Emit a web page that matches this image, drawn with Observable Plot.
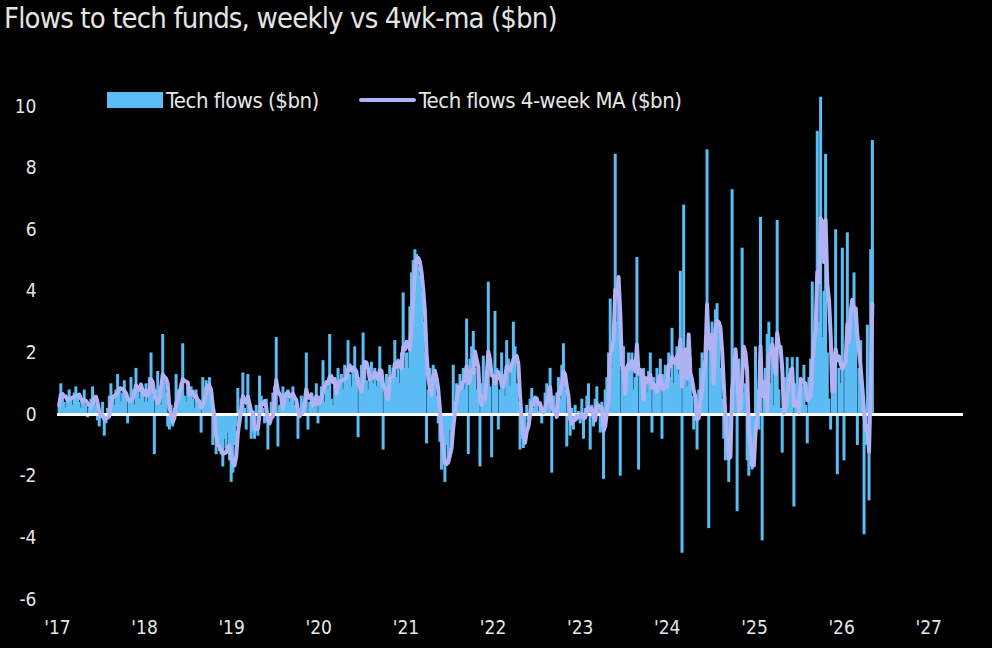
<!DOCTYPE html>
<html>
<head>
<meta charset="utf-8">
<script src="https://cdn.jsdelivr.net/npm/d3@7"></script>
<script src="https://cdn.jsdelivr.net/npm/@observablehq/plot@0.6"></script>
<style>
  html, body { margin: 0; padding: 0; background: #000; }
  body { width: 992px; height: 648px; overflow: hidden;
    font-family: "DejaVu Sans Condensed", "DejaVu Sans", sans-serif;
    color: #e6e6e6; }
  #title { height: 40px; line-height: 36px; font-size: 29px; letter-spacing: -0.85px; padding-left: 4px; color: #e4e4e4; white-space: nowrap; }
  #wrap { position: relative; width: 992px; height: 608px; }
  #legend { position: absolute; left: 107px; top: 48px; height: 24px; display: flex; align-items: center;
    font-size: 22px; letter-spacing: -0.5px; color: #e6e6e6; white-space: nowrap; }
  .sw-bar { width: 56px; height: 16px; background: #5cbcf4; margin-right: 3px; }
  .sw-line { width: 57px; height: 4px; background: #b0b2f4; border-radius: 2px; margin-left: 40px; margin-right: 3px; }
</style>
</head>
<body>
<div id="title">Flows to tech funds, weekly vs 4wk-ma ($bn)</div>
<div id="wrap">
  <div id="chart"></div>
  <div id="legend">
    <div class="sw-bar"></div><span>Tech flows ($bn)</span>
    <div class="sw-line"></div><span>Tech flows 4-week MA ($bn)</span>
  </div>
</div>
<script>
// Weekly tech fund flows ($bn), one array per year
const flows2017 = [0.3, 1.0, 0.7, 0.4, 0.2, 0.6, 0.8, 0.5, 0.3, 0.7, 0.9, 0.6, 0.4,
  0.2, 0.5, 0.8, 0.3, -0.1, 0.2, 0.5, 0.9, 0.6, 0.3, -0.2, -0.4, 0.1,
  0.4, -0.7, -0.3, 0.2, 0.6, 1.0, 0.5, 0.3, 0.8, 1.3, 0.9, 0.4, 0.7,
  1.1, 0.6, -0.3, 0.4, 1.2, 0.8, 0.3, 1.5, 0.9, 0.5, 1.0, 0.7, 0.4];
const flows2018 = [1.0, 0.4, 1.2, 2.0, 0.6, -1.3, 0.8, 1.4, 0.9, 0.3, 2.6, 1.1, 0.7,
  -0.4, -0.5, 0.3, -0.4, 0.2, 1.3, 0.8, 0.5, 1.0, 2.3, 0.6, 0.4, 0.9,
  0.7, 0.9, 0.5, 0.2, 0.8, 0.4, 0.3, -0.6, 1.2, 0.9, 1.1, 0.6, 1.2,
  0.3, -1.0, -0.7, -1.3, -0.9, -1.2, -1.3, -1.7, -0.8, -1.1, -0.6, -1.5, -2.2];
const flows2019 = [-1.9, -1.0, -0.4, 0.85, -0.3, 0.5, 1.35, 0.2, -0.5, 1.3, 0.4, -0.8, -0.6,
  -0.8, 0.3, -0.7, 1.25, 0.6, 0.2, -0.3, 0.5, -1.15, -0.2, 0.4, 0.7, 0.9,
  2.5, -1.05, 0.3, 0.6, 0.9, 0.5, 0.7, 0.8, 0.4, 0.6, 0.9, 0.3, 0.1,
  -0.8, 0.2, 0.6, 0.4, 0.3, 2.0, -0.5, 0.4, 0.7, 0.5, 0.2, 1.0, -0.3];
const flows2020 = [0.6, 0.9, 1.75, 0.4, 1.1, 0.8, 2.6, 0.5, 0.3, 1.2, 0.7, 1.5, 0.9,
  1.3, 0.8, 1.6, 1.1, 2.4, 1.3, 0.9, 1.5, 2.2, 1.0, -0.75, 1.2, 1.6,
  2.65, 1.4, 1.1, 0.8, 1.3, 1.7, 1.0, 1.5, 0.9, 1.2, 2.2, 1.4, -1.15,
  1.0, 1.3, 0.8, 1.6, 1.1, 1.5, 2.4, 1.2, 1.8, 1.0, 2.0, 3.95, 1.5];
const flows2021 = [2.0, 1.5, 3.5, 4.6, 5.0, 5.35, 5.2, 4.8, 4.5, 4.0, 3.0, 2.0, -0.95,
  0.8, 1.5, 1.2, 1.6, 1.4, 0.6, -0.3, -0.9, -1.8, -1.4, -2.2, -1.0, -1.6,
  -0.5, -1.2, 1.6, 0.4, 1.0, 0.6, 1.3, 0.9, 1.5, 0.8, 3.1, -1.3, 1.8,
  2.2, 2.7, 1.5, 0.8, 1.2, -1.7, 1.0, 1.9, 0.7, 1.3, 4.3, 0.9, -1.4];
const flows2022 = [1.2, 3.35, 1.5, -0.5, 0.8, 2.0, 1.3, 0.6, 2.4, 1.8, 0.9, 1.4, 3.0,
  2.2, 1.0, 0.4, -1.15, -0.8, -1.1, -0.6, 0.3, -0.2, 0.5, 0.85, 0.2, 0.6,
  0.45, 0.1, 0.3, -0.3, 0.2, 0.7, 1.0, 0.4, 1.5, -1.9, 0.6, 0.3, 0.7,
  1.2, 0.5, 1.6, 2.3, 0.8, -1.05, 0.4, -0.7, 0.2, -0.5, 0.3, -0.2, 0.1];
const flows2023 = [-0.3, 0.5, -0.8, 0.2, 0.6, 1.0, -1.15, 0.3, -0.4, 0.5, 0.9, 0.2, -0.6,
  0.4, -2.1, 0.8, 1.2, 2.0, 3.75, 1.5, 2.5, 8.45, 3.0, 3.9, -2.0, 1.5,
  2.2, 1.0, 1.4, 2.0, 1.6, 2.0, 0.8, 1.2, 5.1, -1.8, 1.3, 0.9, 1.5,
  1.1, 0.7, 1.4, 2.0, -0.6, 1.2, 0.8, 1.5, 1.0, 1.8, -0.8, 1.3, 1.6];
const flows2024 = [1.5, 2.0, 1.2, 2.8, 1.0, 1.6, 2.2, 1.3, 4.65, -4.5, 6.8, 1.5, 0.9,
  1.2, 1.85, 0.6, -0.5, 0.4, -1.15, 0.8, 1.5, 2.0, 1.2, 2.5, 8.6, -3.7,
  2.5, 3.0, 2.2, 3.4, 3.6, 2.8, 1.5, 0.5, -0.8, -1.5, -1.2, -2.2, -0.6,
  7.3, 0.6, 1.2, -3.15, 1.8, 0.9, 5.4, 0.7, 1.0, -1.5, -2.0, -1.3, -1.8];
const flows2025 = [-1.5, 2.2, 0.8, -0.5, 6.4, -4.1, 0.5, 1.5, 2.6, 3.0, 1.0, 2.5, 0.3,
  1.5, 6.3, 0.8, 0.2, -1.25, 0.5, 1.2, 1.85, 0.8, 1.5, 1.85, -3.0, 1.0,
  1.85, 0.5, 1.2, 0.9, 1.6, 0.3, -0.95, 1.2, 1.8, 4.3, 2.0, 3.0, 9.2,
  3.0, 10.3, 2.5, 4.0, 8.45, 2.0, 0.5, -0.5, 1.0, 2.0, 6.0, -1.95, 1.5];
const flows2026 = [1.0, 5.4, -1.5, 2.0, 5.9, 3.0, 2.5, 3.5, 4.6, 3.2, -1.0, 1.5,
  2.4, 0.5, -3.9, -1.0, 2.9, -2.8, 5.35, 8.9];

const yTicks = [-6, -4, -2, 0, 2, 4, 6, 8, 10];
const firstWeek = new Date(Date.UTC(2017, 0, 8));
const xStart = new Date(Date.UTC(2017, 0, 1));
const xEnd = new Date(Date.UTC(2027, 4, 27));

const allFlows = [].concat(flows2017, flows2018, flows2019, flows2020, flows2021,
  flows2022, flows2023, flows2024, flows2025, flows2026);
const data = allFlows.map((flow, i) => ({ date: d3.utcWeek.offset(firstWeek, i), flow }));

const barColor = "#5cbcf4";
const maColor = "#b0b2f4";

const chart = Plot.plot({
  width: 992,
  height: 608,
  marginLeft: 57,
  marginRight: 29,
  marginTop: 47.5,
  marginBottom: 33.6,
  style: {
    background: "#000",
    color: "#e6e6e6",
    fontFamily: '"DejaVu Sans Condensed", "DejaVu Sans", sans-serif',
    fontSize: "19px"
  },
  x: {
    type: "utc",
    domain: [xStart, xEnd],
    ticks: d3.utcYear.every(1),
    tickFormat: d3.utcFormat("'%y"),
    tickSize: 0,
    tickPadding: 6,
    label: null
  },
  y: {
    domain: [-6.5, 10.6],
    ticks: yTicks,
    tickFormat: (d) => String(d),
    tickSize: 0,
    tickPadding: 21,
    label: null
  },
  marks: [
    Plot.ruleX(data, { x: "date", y1: 0, y2: "flow", stroke: barColor, strokeWidth: 3 }),
    Plot.ruleY([0], { stroke: "#ffffff", strokeWidth: 3 }),
    Plot.lineY(data, Plot.windowY({ k: 4, anchor: "end" }, {
      x: "date", y: "flow", stroke: maColor, strokeWidth: 4, curve: "linear"
    }))
  ]
});
document.getElementById("chart").appendChild(chart);
</script>
</body>
</html>
